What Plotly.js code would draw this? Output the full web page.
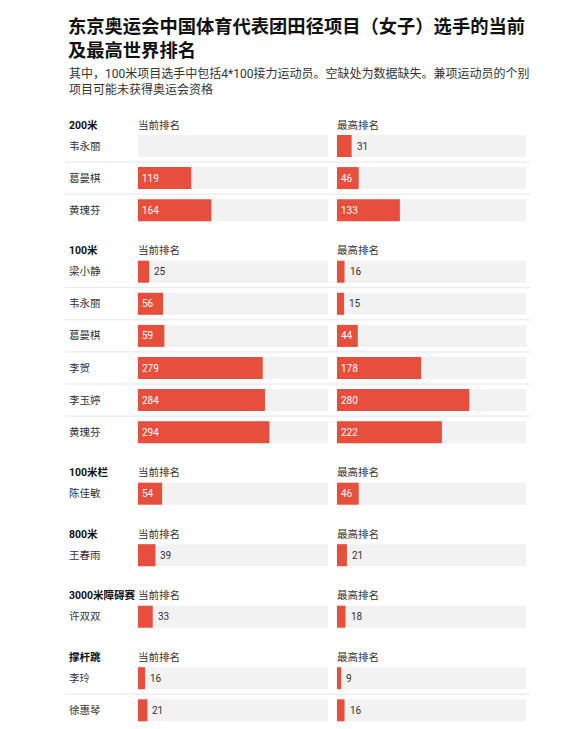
<!DOCTYPE html>
<html>
<head>
<meta charset="utf-8">
<script src="https://cdn.plot.ly/plotly-3.0.1.min.js"></script>
<style>
  html, body { margin: 0; padding: 0; background: #fff; }
  #chart { width: 581px; height: 729px; }
</style>
</head>
<body>
<div id="chart"></div>
<script>
// data
var events = ['200米', '100米', '100米栏', '800米', '3000米障碍赛', '撑杆跳'];
var rowEvent = ['200米', '200米', '200米',
  '100米', '100米', '100米', '100米', '100米', '100米',
  '100米栏', '800米', '3000米障碍赛', '撑杆跳', '撑杆跳'];
var names = ['韦永丽', '葛曼棋', '黄瑰芬',
  '梁小静', '韦永丽', '葛曼棋', '李贺', '李玉婷', '黄瑰芬',
  '陈佳敏', '王春雨', '许双双', '李玲', '徐惠琴'];
var currentRank = [null, 119, 164, 25, 56, 59, 279, 284, 294, 54, 39, 33, 16, 21];
var bestRank = [31, 46, 133, 16, 15, 44, 178, 280, 222, 46, 21, 18, 9, 16];
var colHeads = ['当前排名', '最高排名'];

var W = 581, H = 729;
var FONT = 'Roboto, "Noto Sans CJK SC", sans-serif';
var RED = '#e84e3c';

// vertical layout in pixels (y axis runs 0..729 top to bottom)
var rowY = [], headY = {}, lastInEvent = [];
var cursor = 125;
events.forEach(function (ev) {
  headY[ev] = cursor;
  var y = cursor + 21;
  var last = -1;
  rowEvent.forEach(function (e, i) {
    if (e === ev) { rowY[i] = y; y += 32.1; last = i; }
  });
  lastInEvent.push(last);
  cursor = rowY[last] + 40.5;
});

var xRange = [0, 425], x2Range = [0, 400];
var leftDom = [138 / W, 328 / W], rightDom = [337 / W, 526 / W];

var shapes = [], annotations = [];

// grey track behind every bar + thin separators
rowY.forEach(function (y, i) {
  ['x', 'x2'].forEach(function (ax) {
    shapes.push({type: 'rect', xref: ax + ' domain', yref: 'y', x0: 0, x1: 1,
      y0: y - 11, y1: y + 11, fillcolor: '#f2f2f2', line: {width: 0}, layer: 'below'});
  });
  if (lastInEvent.indexOf(i) < 0) {
    shapes.push({type: 'line', xref: 'paper', yref: 'y', x0: 65 / W, x1: 530 / W,
      y0: y + 16, y1: y + 16, line: {color: '#e6e6e6', width: 1}, layer: 'below'});
  }
  annotations.push({xref: 'paper', yref: 'y', x: 67 / W, y: y, text: names[i],
    showarrow: false, xanchor: 'left', yanchor: 'middle',
    font: {family: FONT, size: 10.5, color: '#333'}});
});

events.forEach(function (ev) {
  annotations.push({xref: 'paper', yref: 'y', x: 67 / W, y: headY[ev], text: '<b>' + ev + '</b>',
    showarrow: false, xanchor: 'left', yanchor: 'middle',
    font: {family: FONT, size: 10.5, color: '#111'}});
  ['x', 'x2'].forEach(function (ax, k) {
    annotations.push({xref: ax + ' domain', yref: 'y', x: 0, y: headY[ev], text: colHeads[k],
      showarrow: false, xanchor: 'left', yanchor: 'middle', xshift: -2,
      font: {family: FONT, size: 10.5, color: '#333'}});
  });
});

// value labels: inside (white) if bar is wide enough, otherwise just after it
function addLabels(vals, ax, range, dom) {
  var pxPerUnit = (dom[1] - dom[0]) * W / (range[1] - range[0]);
  vals.forEach(function (v, i) {
    if (v === null) return;
    var inside = v * pxPerUnit >= 19;
    annotations.push({xref: ax, yref: 'y', x: inside ? 0 : v, y: rowY[i], text: String(v),
      showarrow: false, xanchor: 'left', yanchor: 'middle', xshift: inside ? 2 : 3,
      font: {family: FONT, size: 10, color: inside ? '#ffffff' : '#333'}});
  });
}
addLabels(currentRank, 'x', xRange, leftDom);
addLabels(bestRank, 'x2', x2Range, rightDom);

// title and subtitle
annotations.push({
  xref: 'paper', yref: 'y', x: 66 / W, y: 38.5,
  text: '<b>东京奥运会中国体育代表团田径项目（女子）选手的当前<br>及最高世界排名</b>',
  showarrow: false, xanchor: 'left', yanchor: 'middle', align: 'left',
  font: {family: FONT, size: 18.3, color: '#111'}
});
annotations.push({
  xref: 'paper', yref: 'y', x: 67 / W, y: 81.5,
  text: '其中，100米项目选手中包括4*100接力运动员。空缺处为数据缺失。兼项运动员的个别<br>项目可能未获得奥运会资格',
  showarrow: false, xanchor: 'left', yanchor: 'middle', align: 'left',
  font: {family: FONT, size: 12, color: '#333'}
});

var traces = [
  {type: 'bar', orientation: 'h', x: currentRank, y: rowY, width: 22,
   xaxis: 'x', yaxis: 'y', marker: {color: RED}, hoverinfo: 'skip', name: colHeads[0]},
  {type: 'bar', orientation: 'h', x: bestRank, y: rowY, width: 22,
   xaxis: 'x2', yaxis: 'y', marker: {color: RED}, hoverinfo: 'skip', name: colHeads[1]}
];

var hidden = {showgrid: false, zeroline: false, showticklabels: false, ticks: '', showline: false, fixedrange: true};

var layout = {
  width: W, height: H,
  margin: {l: 0, r: 0, t: 0, b: 0},
  paper_bgcolor: '#fff', plot_bgcolor: 'rgba(0,0,0,0)',
  showlegend: false,
  font: {family: FONT},
  xaxis: Object.assign({domain: leftDom, range: xRange}, hidden),
  xaxis2: Object.assign({domain: rightDom, range: x2Range, anchor: 'y'}, hidden),
  yaxis: Object.assign({domain: [0, 1], range: [H, 0]}, hidden),
  shapes: shapes,
  annotations: annotations
};

Plotly.newPlot('chart', traces, layout, {displayModeBar: false, staticPlot: true});
</script>
</body>
</html>
